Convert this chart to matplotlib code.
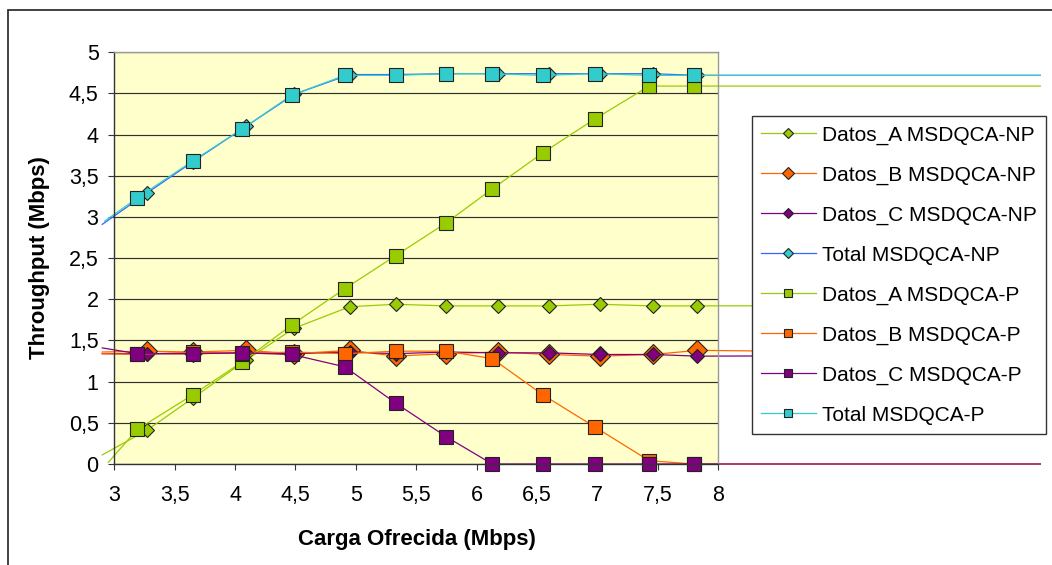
import matplotlib
matplotlib.use("Agg")
import matplotlib.pyplot as plt
from matplotlib.lines import Line2D
from matplotlib.patches import Rectangle

plt.rcParams['font.family'] = ['Liberation Sans', 'DejaVu Sans']

# Offered load (Mbps) for each measurement point
carga_np = [3.27, 3.65, 4.09, 4.49, 4.95, 5.33, 5.75, 6.18, 6.60, 7.02, 7.46, 7.83]
carga_p = [3.19, 3.65, 4.06, 4.47, 4.91, 5.33, 5.75, 6.13, 6.55, 6.98, 7.43, 7.80]

# Throughput (Mbps) per traffic class, non-preemptive scheme
datos_a_np = [0.41, 0.80, 1.26, 1.65, 1.91, 1.94, 1.92, 1.92, 1.92, 1.94, 1.92, 1.92]
datos_b_np = [1.37, 1.36, 1.38, 1.34, 1.38, 1.31, 1.34, 1.36, 1.33, 1.31, 1.33, 1.38]
datos_c_np = [1.34, 1.34, 1.35, 1.34, 1.36, 1.34, 1.36, 1.35, 1.35, 1.33, 1.33, 1.31]
total_np = [3.29, 3.67, 4.10, 4.49, 4.73, 4.73, 4.74, 4.74, 4.74, 4.74, 4.74, 4.72]

# Throughput (Mbps) per traffic class, preemptive scheme
datos_a_p = [0.42, 0.84, 1.24, 1.69, 2.13, 2.53, 2.93, 3.34, 3.78, 4.19, 4.59, 4.59]
datos_b_p = [1.33, 1.36, 1.34, 1.36, 1.34, 1.37, 1.37, 1.28, 0.84, 0.45, 0.04, 0.00]
datos_c_p = [1.34, 1.34, 1.35, 1.33, 1.18, 0.74, 0.33, 0.00, 0.00, 0.00, 0.00, 0.00]
total_p = [3.23, 3.68, 4.07, 4.48, 4.72, 4.72, 4.74, 4.74, 4.72, 4.74, 4.72, 4.72]

# Where each series line enters and leaves (beyond the axis limits)
carga_entrada = [2.90, 2.90, 2.90, 2.90, 2.95, 2.90, 2.90, 2.92]
valor_entrada = [0.11, 1.36, 1.34, 2.91, 0.02, 1.34, 1.41, 2.95]
carga_salida = 10.67
valor_salida = [1.93, 1.34, 1.32, 4.72, 4.59, 0.00, 0.00, 4.72]

etiquetas = ['Datos_A MSDQCA-NP', 'Datos_B MSDQCA-NP', 'Datos_C MSDQCA-NP',
             'Total MSDQCA-NP', 'Datos_A MSDQCA-P', 'Datos_B MSDQCA-P',
             'Datos_C MSDQCA-P', 'Total MSDQCA-P']

ticks_x = [3, 3.5, 4, 4.5, 5, 5.5, 6, 6.5, 7, 7.5, 8]
etiquetas_x = ['3', '3,5', '4', '4,5', '5', '5,5', '6', '6,5', '7', '7,5', '8']
ticks_y = [0, 0.5, 1, 1.5, 2, 2.5, 3, 3.5, 4, 4.5, 5]
etiquetas_y = ['0', '0,5', '1', '1,5', '2', '2,5', '3', '3,5', '4', '4,5', '5']

verde, naranja, morado, turquesa = '#99CC00', '#FF6600', '#800080', '#33CCCC'
estilos = [
    dict(line=verde, face=verde, marker='D', ms=7.6),
    dict(line=naranja, face=naranja, marker='D', ms=10.0),
    dict(line=morado, face=morado, marker='D', ms=7.6),
    dict(line='#3366FF', face=turquesa, marker='D', ms=7.6),
    dict(line=verde, face=verde, marker='s', ms=9.5),
    dict(line=naranja, face=naranja, marker='s', ms=9.5),
    dict(line=morado, face=morado, marker='s', ms=9.5),
    dict(line=turquesa, face=turquesa, marker='s', ms=9.5),
]
series = [(carga_np, datos_a_np), (carga_np, datos_b_np), (carga_np, datos_c_np),
          (carga_np, total_np), (carga_p, datos_a_p), (carga_p, datos_b_p),
          (carga_p, datos_c_p), (carga_p, total_p)]
borde = '#222222'

W, H = 1052, 565
fig = plt.figure(figsize=(W / 100, H / 100), dpi=100)
fig.patch.set_facecolor('white')

# Outer chart frame (right and bottom edges run off the canvas)
fig.patches.append(Rectangle((8 / W, -0.1), 1.2, 1 - 10 / H + 0.1,
                             transform=fig.transFigure, fill=False,
                             edgecolor='#333333', linewidth=1.3))

ax = fig.add_axes([114.3 / W, 1 - 464 / H, (718 - 114.3) / W, (464 - 52.3) / H])
ax.set_facecolor('#FFFFCC')
ax.set_xlim(3, 8)
ax.set_ylim(0, 5)

ax.yaxis.grid(True, color='#303030', linewidth=0.85)
ax.set_axisbelow(True)

for i, ((xs, ys), st) in enumerate(zip(series, estilos)):
    x_all = [carga_entrada[i]] + list(xs) + [carga_salida]
    y_all = [valor_entrada[i]] + list(ys) + [valor_salida[i]]
    ax.plot(x_all, y_all, color=st['line'], linewidth=0.9,
            marker=st['marker'], markersize=st['ms'], markerfacecolor=st['face'],
            markeredgecolor=borde, markeredgewidth=0.8,
            markevery=list(range(1, len(xs) + 1)), clip_on=False)

ax.set_xticks(ticks_x)
ax.set_xticklabels(etiquetas_x)
ax.set_yticks(ticks_y)
ax.set_yticklabels(etiquetas_y)
ax.tick_params(axis='both', direction='out', length=4.3, width=0.8,
               color='#333333', labelsize=15.5, labelcolor='black')
ax.tick_params(axis='y', pad=7)
ax.tick_params(axis='x', pad=11)

for lado in ('left', 'bottom'):
    ax.spines[lado].set_color('#333333')
    ax.spines[lado].set_linewidth(1.0)
for lado in ('top', 'right'):
    ax.spines[lado].set_color('#999999')
    ax.spines[lado].set_linewidth(1.0)

fig.text(417 / W, 1 - 539 / H, 'Carga Ofrecida (Mbps)', ha='center', va='center',
         fontsize=16, fontweight='bold')
fig.text(40 / W, 1 - 258 / H, 'Throughput (Mbps)', ha='center', va='center',
         rotation=90, fontsize=16, fontweight='bold')

manejadores = [Line2D([], [], color=st['line'], linewidth=0.9, marker=st['marker'],
                      markersize=st['ms'] * 0.65, markerfacecolor=st['face'],
                      markeredgecolor=borde, markeredgewidth=0.8)
               for st in estilos]
ley = fig.legend(manejadores, etiquetas, loc='upper left',
                 bbox_to_anchor=(752 / W, 1 - 116 / H), bbox_transform=fig.transFigure,
                 fontsize=15, frameon=True, fancybox=False, shadow=False,
                 borderpad=0.45, labelspacing=1.0, handlelength=2.6,
                 handletextpad=0.32, borderaxespad=0)
ley.get_frame().set_edgecolor('#333333')
ley.get_frame().set_linewidth(1.0)
ley.get_frame().set_facecolor('white')
ley.get_frame().set_alpha(1)

fig.savefig('out.png', dpi=100)
